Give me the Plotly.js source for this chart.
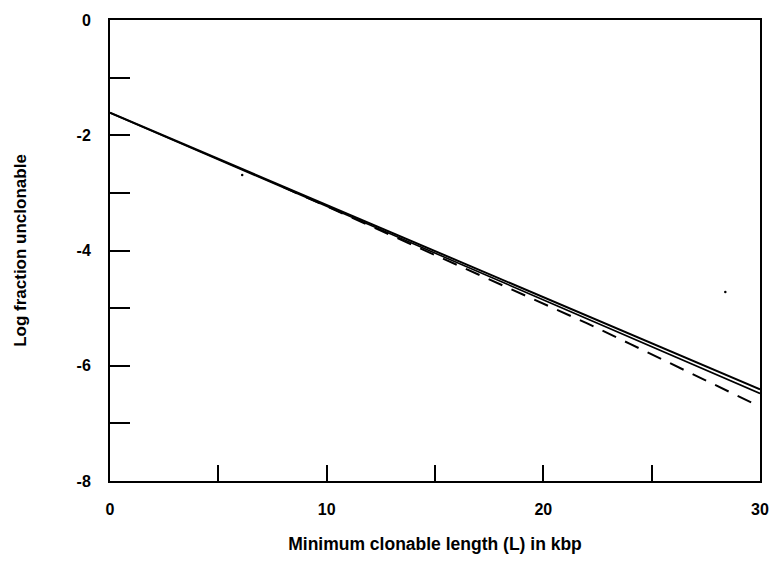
<!DOCTYPE html>
<html>
<head>
<meta charset="utf-8">
<script src="https://cdn.plot.ly/plotly-3.0.1.min.js"></script>
<style>html,body{margin:0;padding:0;background:#fff;}#chart{width:770px;height:571px;}</style>
</head>
<body>
<div id="chart"></div>
<script>
// Data
const lineX = [0, 30];
const solidA = [-1.61, -6.41];
const solidB = [-1.61, -6.48];
const dashedX = [8, 10, 12, 14, 16, 18, 20, 22, 24, 26, 28, 30];
const dashedY = [-2.90, -3.23, -3.57, -3.91, -4.25, -4.58, -4.92, -5.26, -5.62, -5.98, -6.35, -6.71];
const specksX = [6.1, 28.4];
const specksY = [-2.69, -4.72];
const xTickVals = [0, 5, 10, 15, 20, 25, 30];
const xTickText = ['0', '', '10', '', '20', '', '30'];
const yTickVals = [0, -1, -2, -3, -4, -5, -6, -7, -8];
const yTickText = ['0', '', '-2', '', '-4', '', '-6', '', '-8'];

const traces = [
  {x: lineX, y: solidA, mode: 'lines', line: {color: '#000', width: 2}, hoverinfo: 'skip'},
  {x: lineX, y: solidB, mode: 'lines', line: {color: '#000', width: 1.6}, hoverinfo: 'skip'},
  {x: dashedX, y: dashedY, mode: 'lines', line: {color: '#000', width: 2, dash: '15px,10px'}, hoverinfo: 'skip'},
  {x: specksX, y: specksY, mode: 'markers', marker: {color: '#000', size: 2.5}, hoverinfo: 'skip'}
];

const tickFont = {family: 'Liberation Sans, Arial, sans-serif', size: 16, color: '#000', weight: 'bold'};

const layout = {
  width: 770, height: 571,
  margin: {l: 110, r: 10, t: 20, b: 90},
  paper_bgcolor: '#fff', plot_bgcolor: '#fff',
  showlegend: false,
  xaxis: {
    range: [0, 30], tickvals: xTickVals, ticktext: xTickText,
    ticks: 'inside', ticklen: 16, tickwidth: 2, tickcolor: '#000',
    showline: true, linecolor: '#000', linewidth: 2, mirror: true,
    showgrid: false, zeroline: false, tickfont: tickFont, ticklabelstandoff: 13,
    title: {text: 'Minimum clonable length (L) in kbp',
            font: {family: 'Liberation Sans, Arial, sans-serif', size: 17.5, color: '#000', weight: 'bold'}, standoff: 21},
    automargin: false
  },
  yaxis: {
    range: [-8, 0], tickvals: yTickVals, ticktext: yTickText,
    ticks: 'inside', ticklen: 20, tickwidth: 2, tickcolor: '#000',
    showline: true, linecolor: '#000', linewidth: 2, mirror: true,
    showgrid: false, zeroline: false, tickfont: tickFont, ticklabelstandoff: 14,
    title: {text: 'Log fraction unclonable',
            font: {family: 'Liberation Sans, Arial, sans-serif', size: 17, color: '#000', weight: 'bold'}, standoff: 46},
    automargin: false
  }
};

Plotly.newPlot('chart', traces, layout, {displayModeBar: false, staticPlot: true});
</script>
</body>
</html>
